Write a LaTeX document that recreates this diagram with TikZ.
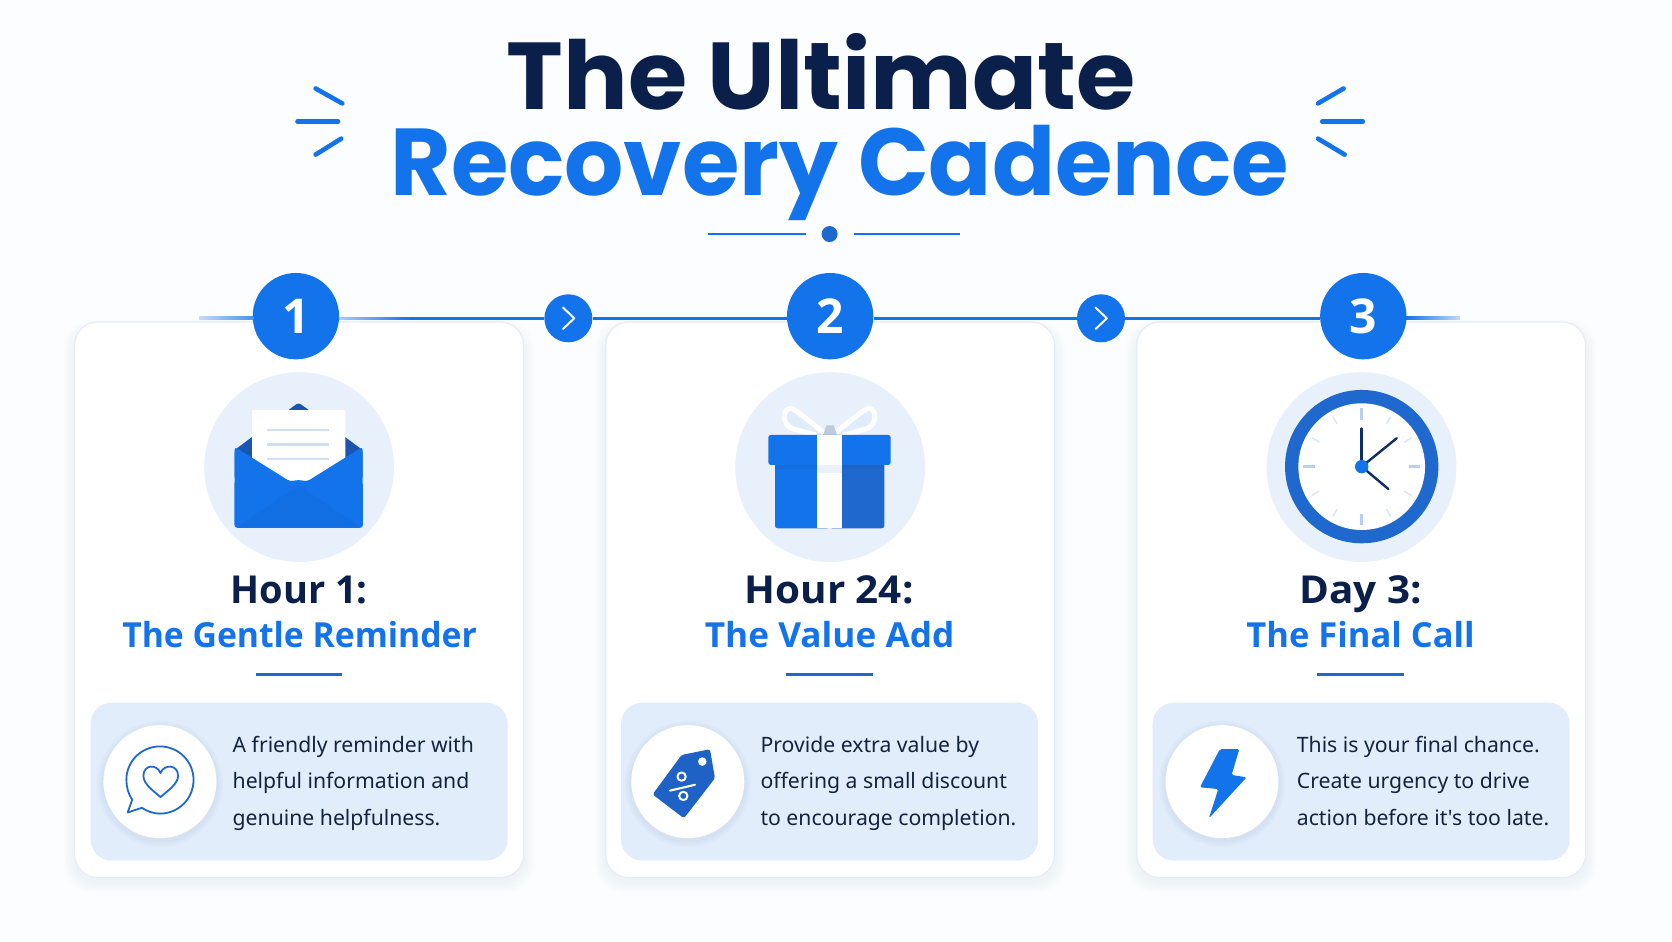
\documentclass[tikz,border=0pt]{standalone}
\usepackage{fontspec}
\usepackage{graphicx}
\usetikzlibrary{fadings}
\setmainfont{Noto Sans}
\newfontfamily\bodyfont{Noto Sans}
\newfontfamily\headfont{Open Sans}
\newfontfamily\titlefont{Poppins}
\definecolor{bgc}{HTML}{FCFDFE}
\definecolor{navy}{HTML}{0B1F4B}
\definecolor{brand}{HTML}{1273EA}
\definecolor{brandd}{HTML}{1F68CE}
\definecolor{deep}{HTML}{0F2D66}
\definecolor{halo}{HTML}{E8F1FB}
\definecolor{panelc}{HTML}{E1EDFB}
\definecolor{edgec}{HTML}{E4ECF6}
\definecolor{ink}{HTML}{14233F}
\definecolor{pale}{HTML}{C4DAF6}
\definecolor{tickc}{HTML}{B7CFF0}
\definecolor{tickl}{HTML}{DCE7F5}
\definecolor{lineinfo}{HTML}{CFDFF4}
\definecolor{shadowc}{HTML}{8FA5C8}
\def\uu{1.06633pt}
\tikzset{
  cardbox/.style={draw=edgec,line width=1.2pt,fill=white,rounded corners=23pt,minimum width=421*\uu,minimum height=521*\uu,inner sep=0pt},
  panelbox/.style={fill=panelc,rounded corners=21pt,minimum width=391*\uu,minimum height=148*\uu,inner sep=0pt},
  numdisc/.style={circle,fill=brand,text=white,minimum size=81*\uu,inner sep=0pt,font=\headfont\fontsize{48}{48}\selectfont\bfseries},
  chevdisc/.style={circle,fill=brand,minimum size=45*\uu,inner sep=0pt},
  halodisc/.style={circle,fill=halo,minimum size=178*\uu,inner sep=0pt},
  whitedisc/.style={circle,fill=white,minimum size=106*\uu,inner sep=0pt},
  tl/.style={draw=brand,line width=3pt},
  ray/.style={draw=brand,line width=4.6pt,line cap=round},
  headtop/.style={anchor=base,text=navy,font=\headfont\fontsize{38.5}{38.5}\selectfont\bfseries},
  headsub/.style={anchor=base,text=brand,font=\headfont\fontsize{34.5}{34.5}\selectfont\bfseries},
  rulebar/.style={draw=brandd,line width=2.6pt},
  bodytxt/.style={anchor=west,align=left,text=ink,inner sep=0pt,font=\bodyfont\fontsize{21.2}{36.2}\selectfont},
  chev/.style={draw=white,line width=2pt,line cap=round,line join=round},
  shade1/.style={fill=shadowc,opacity=.02},
}
\newcommand{\softshadow}[4]{% x1 y1 x2 y2
  \foreach \s in {10,8,6,4,2}{
    \fill[shade1,rounded corners=28pt] (#1-\s,#2-\s+8) rectangle (#3+\s,#4+\s+4);
  }
}
\newcommand{\discshadow}[3]{
  \foreach \s in {6,4,2}{
    \fill[fill=shadowc,opacity=.05] (#1,#2+2) circle[radius=(#3+\s)*\uu];
  }
}
\begin{document}
\begin{tikzpicture}[x=1.06633pt,y=-1.06633pt,line join=round]
\useasboundingbox (0,0) rectangle (1568,882.47);
\fill[bgc] (0,0) rectangle (1568,882.47);

% title
\node[anchor=base,text=navy,inner sep=0pt,font=\titlefont\fontsize{95}{95}\selectfont\bfseries] (t1) at (770,103) {\scalebox{1.01}[1]{The Ultimate}};
\node[anchor=base,text=brand,inner sep=0pt,font=\titlefont\fontsize{95}{95}\selectfont\bfseries] (t2) at (787.5,183) {\scalebox{.98}[1]{Recovery Cadence}};
\draw[ray] (296,83) -- (321,97);
\draw[ray] (279,114) -- (317,114);
\draw[ray] (296,145) -- (320,130);
\draw[ray] (1260,83) -- (1236,97);
\draw[ray] (1240,114) -- (1278,114);
\draw[ray] (1261,145) -- (1236,130);
\node[circle,fill=brandd,minimum size=15*\uu,inner sep=0pt] (dot) at (778,219.5) {};
\coordinate (dl) at (664,219.5);
\coordinate (dr) at (900,219.5);
\draw[brand,line width=2.4pt] (dl) -- (756,219.5);
\draw[brand,line width=2.4pt] (801,219.5) -- (dr);

% cards
\softshadow{70}{302}{491}{823}
\softshadow{568}{302}{989}{823}
\softshadow{1066}{302}{1487}{823}
\node[cardbox] (card1) at (280.5,562.5) {};
\node[cardbox] (card2) at (778.5,562.5) {};
\node[cardbox] (card3) at (1276.5,562.5) {};

% timeline
\node[numdisc] (s1) at (277.5,296.5) {1};
\node[numdisc] (s2) at (778.5,296.5) {2};
\node[numdisc] (s3) at (1278.5,296.5) {3};
\node[chevdisc] (c1) at (533,298.5) {};
\node[chevdisc] (c2) at (1032.5,298.5) {};
\coordinate (tlstart) at (187,298.5);
\coordinate (tlend) at (1369,298.5);
\draw[tl] (s1.east |- c1.west) -- (c1.west);
\draw[tl] (c1.east) -- (s2.west |- c1.east);
\draw[tl] (s2.east |- c2.west) -- (c2.west);
\draw[tl] (c2.east) -- (s3.west |- c2.east);
\fill[bgc,path fading=east,fill opacity=.65] (318,296) rectangle (385,301);
\shade[left color=pale,right color=brand!70!pale] (tlstart)+(0,-1.4) rectangle (237.5,299.9);
\shade[left color=brand,right color=pale] (1318.5,297.1) rectangle (1369,299.9);
\draw[chev] (528,288.5) -- (538.5,298.5) -- (528,308.5);
\draw[chev] (1027.5,288.5) -- (1038,298.5) -- (1027.5,308.5);

% halos
\node[halodisc] (h1) at (280.5,438) {};
\node[halodisc] (h2) at (778.5,438) {};
\node[halodisc] (h3) at (1276.8,438) {};

% envelope
\fill[brandd!70!deep,rounded corners=3pt] (220,422) -- (280,377.5) -- (340,422) -- (340,450) -- (220,450) -- cycle;
\fill[white,rounded corners=1pt] (236.5,384.5) rectangle (323.8,450);
\draw[lineinfo,line width=2.6pt] (250.6,403.3) -- (309,403.3);
\draw[lineinfo,line width=2.6pt] (250.6,416.7) -- (309,416.7);
\draw[lineinfo,line width=2.6pt] (250.6,430.4) -- (309,430.4);
\fill[brand,rounded corners=3pt] (220,419) -- (272,451.5) -- (280,450) -- (288,451.5) -- (340,419) -- (340.4,495) -- (219.8,495) -- cycle;
\fill[brand!95!deep,rounded corners=2pt] (222,494.5) -- (280,455) -- (338,494.5) -- cycle;

% gift
\draw[white,line width=5pt,fill=halo!70!lineinfo] (773,406) .. controls (755,392) and (745,383) .. (741,383) .. controls (733,384) and (734,398) .. (743,402) -- (765,408);
\draw[white,line width=5pt,fill=halo!70!lineinfo] (783,406) .. controls (801,392) and (811,383) .. (815,383) .. controls (823,384) and (822,398) .. (813,402) -- (791,408);
\fill[lineinfo!80!gray] (772,408) -- (775,399) -- (782,399) -- (785,408) -- cycle;
\fill[brand,rounded corners=2.5pt] (726.8,430) -- (778,430) -- (778,495.4) -- (726.8,495.4) -- cycle;
\fill[brandd,rounded corners=2.5pt] (778,430) -- (829.3,430) -- (829.3,495.4) -- (778,495.4) -- cycle;
\fill[brandd!85!black,opacity=.2] (726.8,436) rectangle (829.3,440);
\fill[brand,rounded corners=2.5pt] (720.6,407.9) rectangle (835.3,436);
\fill[white] (766.5,407.9) rectangle (790,495.4);
\fill[tickl!60!white] (766.5,436) rectangle (790,444);

% clock
\fill[brandd] (1277,437.6) circle[radius=71.9];
\fill[white] (1277,437.6) circle[radius=59.4];
\foreach \a in {30,60,120,150,210,240,300,330}{
  \draw[tickl,line width=1.6pt,line cap=round] (1277,437.6) ++(\a:46.5) -- ++(\a:7);
}
\foreach \a in {0,90,180,270}{
  \draw[tickc,line width=2.6pt] (1277,437.6) ++(\a:44) -- ++(\a:11);
}
\draw[deep,line width=2.8pt,line cap=round] (1277,437.6) -- (1277,402);
\draw[deep,line width=2.4pt,line cap=round] (1277,437.6) -- (1309.8,411);
\draw[deep,line width=2.4pt,line cap=round] (1277,437.6) -- (1302,458.6);
\fill[brand] (1277,437.6) circle[radius=6.3];

% headings
\node[headtop] (h1a) at (280.5,566) {\scalebox{.987}[1]{Hour 1:}};
\node[headsub] (h1b) at (281,607) {\scalebox{.977}[1]{The Gentle Reminder}};
\node[headtop] (h2a) at (777.5,566) {\scalebox{1.05}[1]{Hour 24:}};
\node[headsub] (h2b) at (778,607) {\scalebox{1.02}[1]{The Value Add}};
\node[headtop] (h3a) at (1276,566) {\scalebox{1.05}[1]{Day 3:}};
\node[headsub] (h3b) at (1276,607) {The Final Call};
\draw[rulebar] (240,632.5) -- (321,632.5);
\draw[rulebar] (737.5,632.5) -- (818.5,632.5);
\draw[rulebar] (1235.5,632.5) -- (1316.5,632.5);

% panels
\node[panelbox] (p1) at (280.5,733) {};
\node[panelbox] (p2) at (778,733) {};
\node[panelbox] (p3) at (1276.5,733) {};
\discshadow{150}{733}{53}
\discshadow{645}{733}{53}
\discshadow{1146}{733}{53}
\node[whitedisc] (d1) at (150,733) {};
\node[whitedisc] (d2) at (645,733) {};
\node[whitedisc] (d3) at (1146,733) {};
\node[bodytxt] (b1) at (218,733) {\strut A friendly reminder with\\helpful information and\\genuine helpfulness.\strut};
\node[bodytxt] (b2) at (713,733) {\strut Provide extra value by\\offering a small discount\\to encourage completion.\strut};
\node[bodytxt] (b3) at (1216,733) {\strut This is your final chance.\\Create urgency to drive\\action before it's too late.\strut};

% speech bubble with heart
\draw[brandd,line width=1.8pt] (124,750) -- (119.7,762) -- (133,757.5)
   .. controls (138,761) and (144,763) .. (150,763)
   .. controls (167.5,763) and (181.5,749) .. (181.5,731.4)
   .. controls (181.5,714) and (167.5,700) .. (150,700)
   .. controls (132.5,700) and (118.5,714) .. (118.5,731.4)
   .. controls (118.5,738) and (120.5,745) .. (124,750) -- cycle;
\draw[brandd,line width=1.8pt] (150.5,747.5) .. controls (143,741) and (134.5,735) .. (134.5,727.5)
   .. controls (134.5,717) and (147,716) .. (150.5,725)
   .. controls (154,716) and (167,717) .. (167,727.5)
   .. controls (167,735) and (158,741) .. (150.5,747.5) -- cycle;

% tag
\fill[brandd!90!deep,rounded corners=2.5pt] (612,745) -- (641.4,767.4) -- (670.5,729.8) -- (665.8,702.6) -- (639.2,708) -- cycle;
\fill[white] (658.6,714.2) circle[radius=4];
\draw[white,line width=2.1pt,line cap=round] (628.3,741.4) -- (651.7,736);
\draw[white,line width=2pt] (639.2,728.3) circle[radius=3.9];
\draw[white,line width=2pt] (640.8,746.4) circle[radius=3.9];

% bolt
\fill[brand,rounded corners=1.5pt] (1144,702.6) -- (1162.2,702.6) -- (1155,726.7) -- (1169,729) -- (1133.7,767.4) -- (1142.5,740) -- (1125.3,738.3) -- cycle;
\end{tikzpicture}
\end{document}
